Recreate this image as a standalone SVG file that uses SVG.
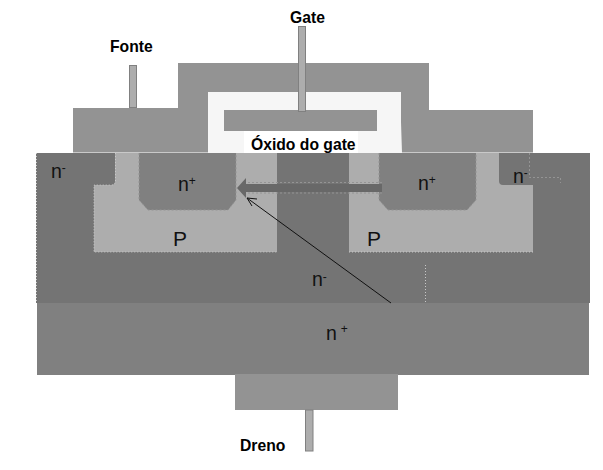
<svg xmlns="http://www.w3.org/2000/svg" width="603" height="470" viewBox="0 0 603 470">
<style>
.metal{fill:#939393}
.pin{fill:#adadad;stroke:#808080;stroke-width:1}
.nminus{fill:#747474}
.nplus{fill:#808080}
.p{fill:#adadad}
.dot{fill:none;stroke:#c8c8c8;stroke-width:1;stroke-dasharray:1 2}
.dashn{fill:none;stroke:#949494;stroke-width:1;stroke-dasharray:2 2}
.b{font-family:"Liberation Sans",Arial,sans-serif;font-size:15.700px;font-weight:bold;fill:#000}
.t{font-family:"Liberation Sans",Arial,sans-serif;font-size:19.500px;fill:#111}
.pl{font-size:21px}
.s{font-size:12px}
</style>
<rect width="603" height="470" fill="#fff"/>
<g id="epitaxy-n-minus"><rect class="nminus" x="36" y="153" width="554" height="150"/>
<path class="dot" d="M36.500 153V303"/>
<path class="dot" d="M425.500 265V303"/>
<text class="t" x="312" y="286">n<tspan class="s" dy="-5">-</tspan></text></g>
<g id="body-left"><path class="p" d="M115 153H277V252H94V185H111Q115 185 115 181Z"/>
<path class="dot" d="M115.500 153V181Q115.500 185 111 185H94V252H277"/>
<text class="t pl" x="173" y="246">P</text></g>
<g id="body-right"><path class="p" d="M349 153H499V181Q499 185 503 185H533V252H349Z"/>
<path class="dot" d="M349 252H533"/>
<text class="t pl" x="367" y="246">P</text></g>
<g id="source-left"><path class="nplus" d="M139 153H236V200L228 210H148L139 200Z"/>
<path class="dashn" d="M139 153V200L148 210H228L236 200V153"/>
<text class="t" x="178" y="191">n<tspan class="s" dy="-6">+</tspan></text></g>
<g id="source-right"><path class="nplus" d="M379 153H476V200L467 210H388L379 200Z"/>
<path class="dashn" d="M379 153V200L388 210H467L476 200V153"/>
<text class="t" x="418" y="190">n<tspan class="s" dy="-6">+</tspan></text></g>
<g id="contact-n-minus-left"><text class="t" x="51" y="178">n<tspan class="s" dy="-6">-</tspan></text></g>
<g id="contact-n-minus-right"><path class="dashn" d="M529.500 153V177.500H560.500V183"/><text class="t" x="513" y="183">n<tspan class="s" dy="-6">-</tspan></text></g>
<g id="substrate-n-plus"><rect class="nplus" x="37" y="303" width="552" height="72"/>
<text class="t" x="326" y="340">n<tspan class="s" dx="4" dy="-7">+</tspan></text></g>
<g id="metal-top"><path class="metal" d="M73 108H178V63H429V110H533V152.500H73Z"/></g>
<g id="oxide"><path d="M208 92H401V122L402 153H208Z" fill="#f6f6f6"/>
<rect x="244" y="131" width="114" height="22" fill="#fff"/>
<text class="b" x="251" y="150">Óxido do gate</text></g>
<g id="gate"><rect class="metal" x="224" y="110" width="153" height="21"/>
<rect class="pin" x="298.500" y="26.500" width="7" height="85"/>
<text class="b" x="290" y="23">Gate</text></g>
<g id="fonte"><rect class="pin" x="129.500" y="65.500" width="7" height="42"/>
<text class="b" x="110" y="52">Fonte</text></g>
<g id="drain"><rect class="metal" x="235" y="374" width="163" height="36"/>
<rect class="pin" x="305.500" y="410" width="7.500" height="41"/>
<text class="b" x="240" y="451">Dreno</text></g>
<g id="connectors">
<path d="M382 184H246V178L237 188L246 198V192H382Z" fill="#686868"/>
<path d="M382 182.500H247M382 193H247" class="dashn"/>
<path d="M391 303L247 198" fill="none" stroke="#111" stroke-width="1"/>
<path d="M257 199L247 198L252 206" fill="none" stroke="#111" stroke-width="1"/>
</g>
</svg>
